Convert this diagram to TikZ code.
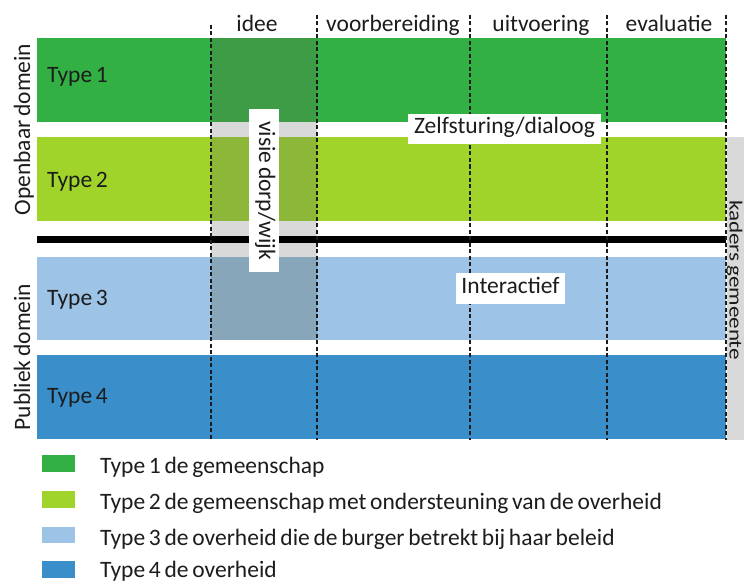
\documentclass[tikz,border=0pt]{standalone}
\usepackage{fontspec}
\setmainfont[WordSpace=0.7]{Carlito}
\definecolor{tone}{HTML}{33B044}
\definecolor{ttwo}{HTML}{A1D42A}
\definecolor{tthree}{HTML}{9DC3E6}
\definecolor{tfour}{HTML}{3A8FCA}
\definecolor{tonedark}{HTML}{3E9C46}
\definecolor{ttwodark}{HTML}{8DB739}
\definecolor{tthreedark}{HTML}{88A6B9}
\definecolor{gapgray}{HTML}{D9D9D9}
\definecolor{ink}{HTML}{1C1C1C}
\begin{document}
\begin{tikzpicture}[x=1pt,y=-1pt,
  font=\fontsize{23.5}{28}\selectfont, text=ink,
  phase/.style={dash pattern=on 4pt off 2.5pt, line width=1.3pt, draw=ink},
  plain/.style={inner sep=0pt},
  labelbox/.style={fill=white, inner sep=0pt, text height=15pt, text depth=5pt}]
\useasboundingbox (0,0) rectangle (744,583);
\clip (0,0) rectangle (744,583);
% bars
\fill[tone] (37,38) rectangle (726,122);
\fill[ttwo] (37,137) rectangle (726,221);
\fill[tthree] (37,257) rectangle (726,340);
\fill[tfour] (37,355) rectangle (726,439);
% idee column
\fill[gapgray] (211,122) rectangle (317,257);
\fill[tonedark] (211,38) rectangle (317,122);
\fill[ttwodark] (211,137) rectangle (317,221);
\fill[tthreedark] (211,257) rectangle (317,340);
% separator
\fill[black] (37,235.5) rectangle (726,243);
% right strip
\fill[gapgray] (727,137) rectangle (744,440);
% phase lines
\coordinate (p1t) at (211,25); \coordinate (p1b) at (211,440);
\coordinate (p2t) at (317,15); \coordinate (p2b) at (317,440);
\coordinate (p3t) at (470,15); \coordinate (p3b) at (470,440);
\coordinate (p4t) at (607,15); \coordinate (p4b) at (607,440);
\coordinate (p5t) at (726,15); \coordinate (p5b) at (726,440);
\draw[phase] (p1t) -- (p1b);
\draw[phase] (p2t) -- (p2b);
\draw[phase] (p3t) -- (p3b);
\draw[phase] (p4t) -- (p4b);
\draw[phase] (p5t) -- (p5b);
% headers
\node[plain, anchor=base] (hidee) at (257,31.5) {idee};
\node[plain, anchor=base] (hvoor) at (393,31.5) {voorbereiding};
\node[plain, anchor=base] (huit) at (541,31.5) {uitvoering};
\node[plain, anchor=base] (heval) at (669,31.5) {evaluatie};
% type labels
\node[plain, anchor=base west] (ty1) at (47,83) {Type 1};
\node[plain, anchor=base west] (ty2) at (47,187) {Type 2};
\node[plain, anchor=base west] (ty3) at (47,305) {Type 3};
\node[plain, anchor=base west] (ty4) at (47,403) {Type 4};
% domains
\node[plain, anchor=base, rotate=90] (ob) at (30,129.5) {Openbaar domein};
\node[plain, anchor=base, rotate=90] (pd) at (30,357) {Publiek domein};
\node[plain, anchor=base, rotate=-90, font=\fontsize{18.5}{22}\selectfont] (kg) at (729.5,280) {\scalebox{1.25}[1]{kaders gemeente}};
% boxes
\node[labelbox, minimum width=193pt, minimum height=30pt] (zelf) at (504.5,129) {Zelfsturing/dialoog};
\node[labelbox, minimum width=109pt, minimum height=31pt] (inter) at (510.5,288.5) {Interactief};
\node[labelbox, rotate=-90, minimum width=163pt, minimum height=30pt] (visie) at (264,190.5) {visie dorp/wijk};
% legend
\fill[tone] (42,455) rectangle (75,472);
\fill[ttwo] (42,491) rectangle (75,508);
\fill[tthree] (42,527) rectangle (75,543);
\fill[tfour] (42,561) rectangle (75,577.5);
\node[plain, anchor=base west] (l1) at (100,473) {Type 1 de gemeenschap};
\node[plain, anchor=base west] (l2) at (100,509) {Type 2 de gemeenschap met ondersteuning van de overheid};
\node[plain, anchor=base west] (l3) at (100,545) {Type 3 de overheid die de burger betrekt bij haar beleid};
\node[plain, anchor=base west] (l4) at (100,577.5) {Type 4 de overheid};
\end{tikzpicture}
\end{document}
